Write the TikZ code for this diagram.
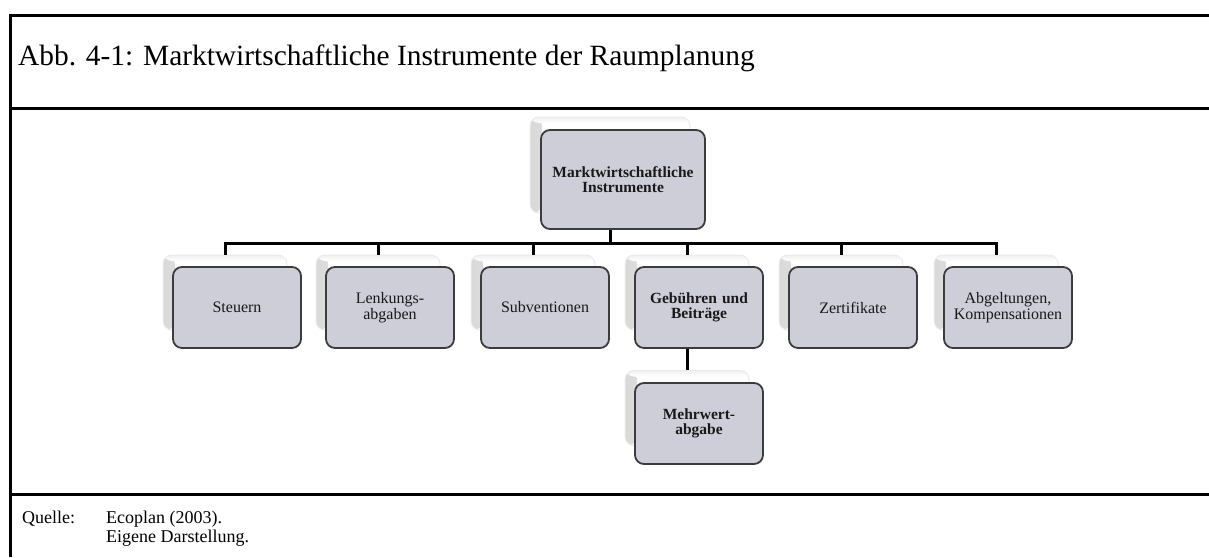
\documentclass[tikz,border=0pt]{standalone}
\usepackage{fontspec}
\setmainfont{Liberation Serif}
\definecolor{boxfill}{RGB}{206,206,217}
\definecolor{boxline}{RGB}{60,60,60}
\tikzset{
  frame/.style={line width=3pt, black},
  conn/.style={line width=3pt, black},
  backbox/.style={rectangle, rounded corners=9pt, fill=white, draw=black!8, line width=1pt, inner sep=0pt,
    path picture={
      \shade[left color=black!15, right color=white] (path picture bounding box.north west) rectangle ([xshift=12pt]path picture bounding box.south west);
      \shade[top color=black!6, bottom color=white] (path picture bounding box.north west) rectangle ([yshift=-6pt]path picture bounding box.north east);
    }},
  frontbox/.style={rectangle, rounded corners=9pt, fill=boxfill, draw=boxline, line width=1.8pt, inner sep=2pt, align=center, text=black!90, font=\fontsize{16}{15.5}\selectfont},
  small/.style={minimum width=124pt, minimum height=75pt},
  smallf/.style={minimum width=128pt, minimum height=81pt, text width=122pt},
  txt/.style={anchor=base west, inner sep=0pt},
  srcfont/.style={font=\fontsize{18}{19}\selectfont}
}
\begin{document}
\begin{tikzpicture}[x=1pt,y=-1pt]
\useasboundingbox (0,0) rectangle (1209,557);
% frame
\draw[frame] (1209,15) -- (10,15) -- (10,557);
\draw[frame] (10,108) -- (1209,108);
\draw[frame] (10,494) -- (1209,494);
\node[txt, font=\fontsize{29.4}{35}\selectfont] (title) at (18,65) {Abb. 4-1: Marktwirtschaftliche Instrumente der Raumplanung};
\node[txt, srcfont] (q) at (22,523) {Quelle:};
\node[txt, srcfont] (q1) at (106,523) {Ecoplan (2003).};
\node[txt, srcfont] (q2) at (106,542) {Eigene Darstellung.};
% back boxes
\node[backbox, minimum width=160pt, minimum height=96pt] (b0) at (610,165) {};
\foreach \n/\x in {1/225,2/378,3/533,4/687,5/841,6/996}{
  \node[backbox, small] (b\n) at (\x,292.5) {};
}
\node[backbox, small] (b7) at (687,408) {};
% connectors
\draw[conn] (b0.south) -- ++(0,30) coordinate (bus);
\draw[conn] (b1.north) |- (bus) -| (b6.north);
\foreach \n in {2,3,4,5}{
  \draw[conn] (b\n.north) -- (b\n.north |- bus);
}
\draw[conn] (b4.south) -- (b7.north);
% front boxes
\node[frontbox, minimum width=164pt, minimum height=99pt, text width=158pt, font=\fontsize{15.5}{15}\selectfont\bfseries] (f0) at (623,179.5) {Marktwirtschaftliche\\Instrumente};
\node[frontbox, smallf] (f1) at (237,307.5) {Steuern};
\node[frontbox, smallf] (f2) at (390,307.5) {Lenkungs-\\abgaben};
\node[frontbox, smallf] (f3) at (545,307.5) {Subventionen};
\node[frontbox, smallf, font=\fontsize{15.5}{15}\selectfont\bfseries] (f4) at (699,307.5) {Gebühren und\\Beiträge};
\node[frontbox, smallf] (f5) at (853,307.5) {Zertifikate};
\node[frontbox, smallf] (f6) at (1008,307.5) {Abgeltungen,\\Kompensationen};
\node[frontbox, smallf, font=\fontsize{15.5}{15}\selectfont\bfseries] (f7) at (699,423.5) {Mehrwert-\\abgabe};
\end{tikzpicture}
\end{document}
